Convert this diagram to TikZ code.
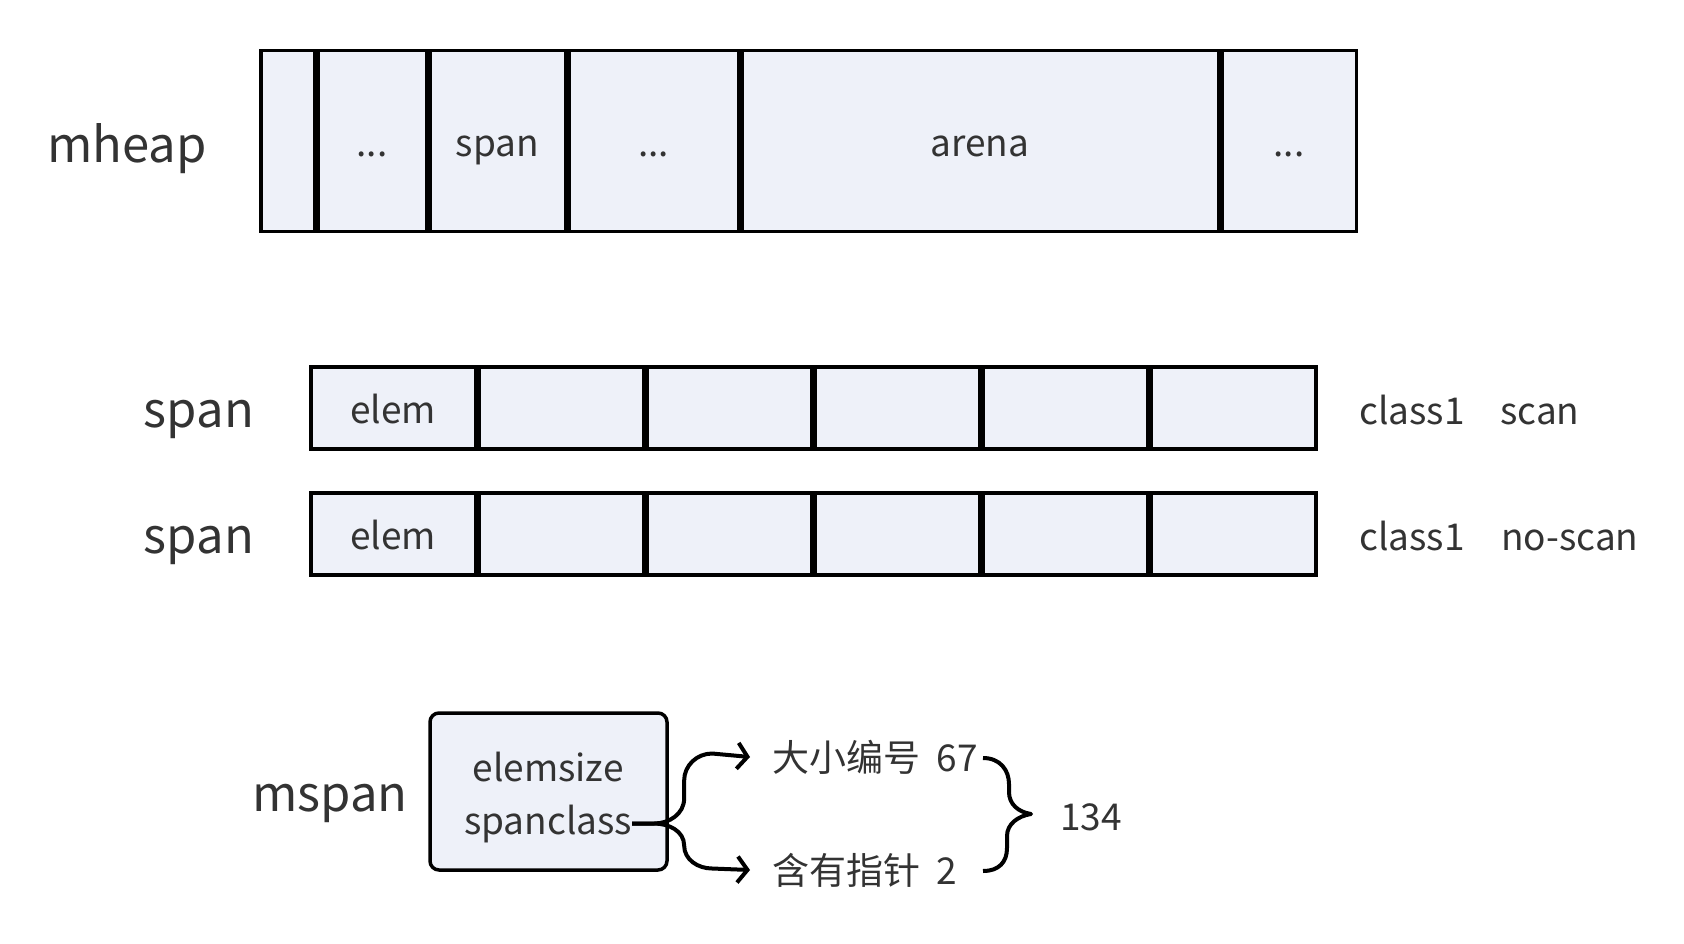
\documentclass[tikz,border=0pt]{standalone}
\usepackage{fontspec}
\setmainfont{Noto Sans CJK SC}
\usetikzlibrary{arrows.meta}
\definecolor{cellfill}{HTML}{EEF1F9}
\definecolor{ink}{HTML}{333333}
\newcommand{\skipdots}{...}
\tikzset{
    cell/.style={draw, line width=3.5pt, fill=cellfill, minimum height=#1, inner sep=0pt,
        text height=31pt, text depth=0pt, text=ink, font=\fontsize{37}{44}\selectfont},
    txt/.style={inner sep=0pt, text=ink, font=\fontsize{37}{44}\selectfont},
    big/.style={inner sep=0pt, text=ink, font=\fontsize{49}{59}\selectfont},
    link/.style={line width=4pt, line join=round},
}
\begin{document}
\begin{tikzpicture}[x=1pt, y=-1pt, >={Straight Barb[length=10pt,width=26pt]}]
    \useasboundingbox (0,0) rectangle (1684,944);
    \node[big, anchor=base] (mheaplbl) at (127,163) {mheap};
    \foreach \xa/\xb/\lbl [count=\k] in {259/316/{}, 316/428/\skipdots, 428/567/span, 567/740/\skipdots, 740/1220/arena, 1220/1358/\skipdots}
    {
        \node[cell=181, minimum width={\xb-\xa-3.5}] (heap\k) at ({(\xa+\xb)/2},141) {\lbl};
    }

    \foreach \row/\yy in {1/365, 2/491}
    {
        \node[big, anchor=base] (spanlbl\row) at (199,\yy+62) {span};
        \foreach \k in {0,...,5}
        {
            \node[cell=82, minimum width=164.6, anchor=north west] (span\row-\k) at ({309+168.1*\k},\yy) {\ifnum\k=0 elem\fi};
        }
        \node[txt, anchor=base west] (cls\row) at (1359,\yy+59) {class1};
    }
    \node[txt, anchor=base west] (scan1) at (1500,424) {scan};
    \node[txt, anchor=base west] (scan2) at (1501,550) {no-scan};

    \node[big, anchor=base] (mspanlbl) at (330,811) {mspan};
    \node[draw, line width=3.5pt, rounded corners=9pt, fill=cellfill, minimum width=237, minimum height=157, inner sep=0pt] (msbox) at (548.5,791.5) {};
    \node[txt, anchor=base] (elemsz) at (548,781) {elemsize};
    \node[txt, anchor=base] (spcls) at (548,834) {spanclass};

    \node[txt, anchor=west] (szcls) at (772,757) {大小编号\hspace{0.45em}67};
    \node[txt, anchor=west] (hasptr) at (772,870) {含有指针\hspace{0.45em}2};
    \node[txt, anchor=west] (total) at (1060,817) {134};

    \draw[link,->] (spcls.east) -- ++(22,0) to[out=0,in=-90] ++(30,-25) -- ++(0,-18) to[out=90,in=180] ++(28,-27) -- ([xshift=-22pt]szcls.west);
    \draw[link,->] (spcls.east) -- ++(22,0) to[out=0,in=90] ++(30,22) to[out=-90,in=180] ++(28,23) -- ([xshift=-22pt]hasptr.west);

    \draw[link] (983,758) .. controls (1000,758) and (1009,770) .. (1009,784) -- (1009,792) .. controls (1009,804) and (1018,812) .. (1031,814) .. controls (1018,816) and (1007,824) .. (1007,836) -- (1007,848) .. controls (1007,862) and (999,871) .. (983,871);
\end{tikzpicture}
\end{document}
